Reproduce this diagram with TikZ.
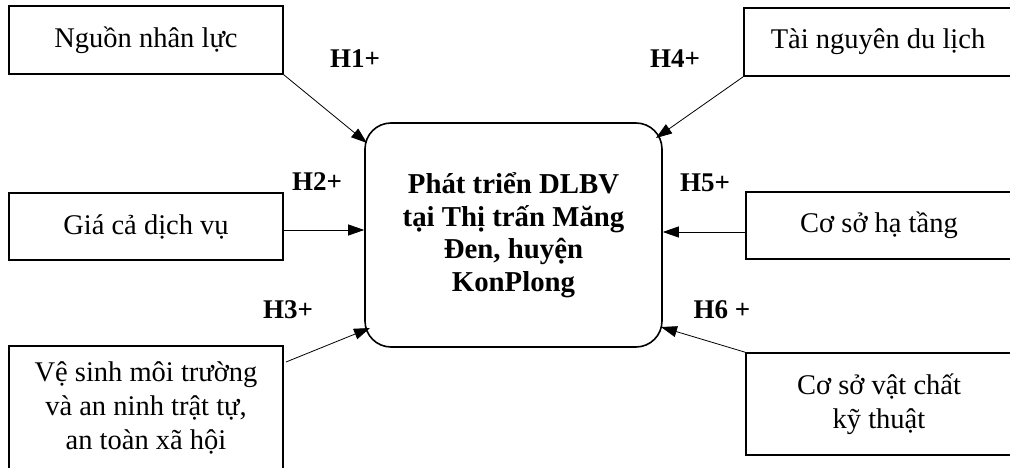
\documentclass[tikz,border=0pt]{standalone}
\usepackage{fontspec}
\setmainfont{Liberation Serif}
\usetikzlibrary{arrows.meta}
\begin{document}
\begin{tikzpicture}[x=1pt,y=-1pt,
  factor/.style={draw,line width=1.5pt,align=center,inner sep=0pt,
    font=\fontsize{28.5}{34}\selectfont},
  core/.style={draw,line width=1.6pt,rounded corners=26pt,align=center,inner sep=0pt,
    minimum width=297pt,minimum height=224pt,font=\bfseries\fontsize{28.8}{32.5}\selectfont},
  hyp/.style={anchor=base,inner sep=0pt,font=\bfseries\fontsize{27}{30}\selectfont},
  link/.style={line width=0.8pt,-{Triangle[length=16pt,width=11pt]}}]
\useasboundingbox (0,0) rectangle (1010,468);
\fill[white] (0,0) rectangle (1010,468);

% central box
\node[core] (c) at (513.5,235) {Phát triển DLBV\\tại Thị trấn Măng\\Đen, huyện\\KonPlong};

% factor boxes
\node[factor,minimum width=274pt,minimum height=68pt] (n1) at (146,40) {Nguồn nhân lực};
\node[factor,minimum width=274pt,minimum height=67pt] (n2) at (146,226.5) {Giá cả dịch vụ};
\node[factor,minimum width=274pt,minimum height=124pt] (n3) at (146,408) {Vệ sinh môi trường\\và an ninh trật tự,\\an toàn xã hội};
\node[factor,minimum width=268pt,minimum height=68pt] (n4) at (878,42) {Tài nguyên du lịch};
\node[factor,minimum width=266pt,minimum height=67pt] (n5) at (879,225.5) {Cơ sở hạ tầng};
\node[factor,minimum width=266pt,minimum height=102pt] (n6) at (879,404) {Cơ sở vật chất\\kỹ thuật};

% arrow tips on the central box
\coordinate (t1) at (367,143);
\coordinate (t4) at (656,138);
\coordinate (t3) at (370,328);
\coordinate (t6) at (661,327);
\coordinate (s3) at (286,362);

% connectors
\draw[link] (n1.south east) -- (t1);
\draw[link] ([yshift=-3.5pt]n2.east) -- ([yshift=-3.5pt]n2.east -| c.west);
\draw[link] (s3) -- (t3);
\draw[link] (n4.south west) -- (t4);
\draw[link] ([yshift=-6.5pt]n5.west) -- ([yshift=-6.5pt]n5.west -| c.east);
\draw[link] (n6.north west) -- (t6);

% hypothesis labels
\node[hyp] (h1) at (355,68) {H1+};
\node[hyp] (h2) at (317,190) {H2+};
\node[hyp] (h3) at (288,318) {H3+};
\node[hyp] (h4) at (675,68) {H4+};
\node[hyp] (h5) at (705,192) {H5+};
\node[hyp] (h6) at (722,318) {H6 +};
\end{tikzpicture}
\end{document}
